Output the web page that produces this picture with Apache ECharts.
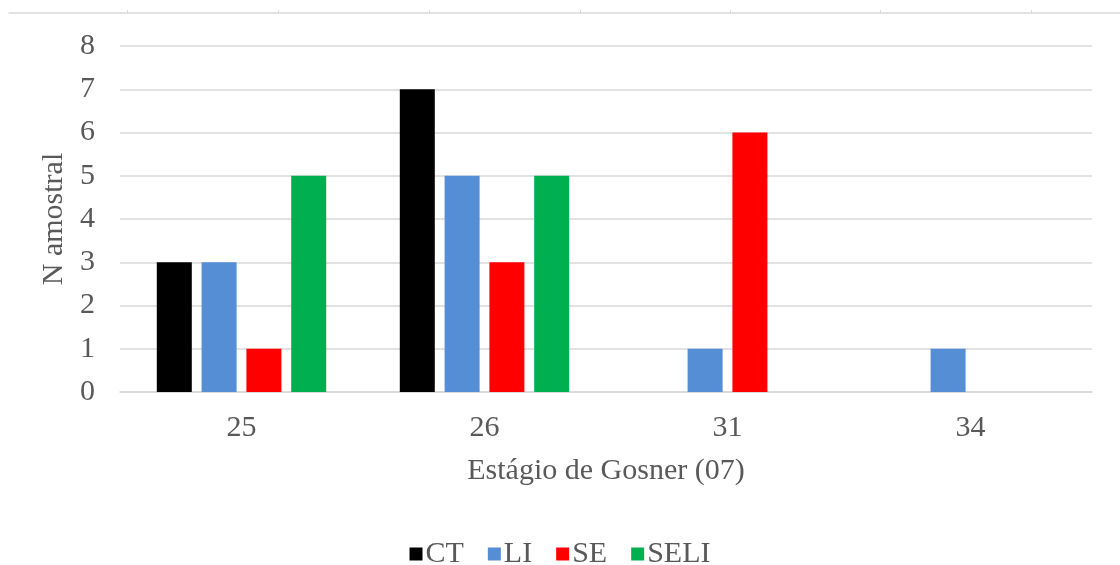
<!DOCTYPE html>
<html>
<head>
<meta charset="utf-8">
<script src="https://cdn.jsdelivr.net/npm/echarts@6/dist/echarts.min.js"></script>
<style>
  html, body { margin: 0; padding: 0; background: #fff; }
  #chart { width: 1120px; height: 565px; }
</style>
</head>
<body>
<div id="chart"></div>
<script>
// Gosner stages and sample counts per treatment
const stages = ['25', '26', '31', '34'];
const ct   = [3, 7, 0, 0];
const li   = [3, 5, 1, 1];
const se   = [1, 3, 6, 0];
const seli = [5, 5, 0, 0];
const yTicks = [0, 1, 2, 3, 4, 5, 6, 7, 8];

const FONT = '"Liberation Serif", "DejaVu Serif", serif';
const FONT_SIZE = 30;
const TEXT = '#595959';
const GRID_LINE = '#d9d9d9';

function bar(name, data, color) {
  return {
    name, type: 'bar', data,
    xAxisIndex: 0, yAxisIndex: 0,
    barWidth: 35, barGap: '28%',
    itemStyle: { color },
    emphasis: { disabled: true }
  };
}

const chart = echarts.init(document.getElementById('chart'), null, { renderer: 'canvas' });
chart.setOption({
  animation: false,
  backgroundColor: '#ffffff',
  textStyle: { fontFamily: FONT },
  grid: [
    { left: 120, right: 28, top: 46, height: 346 },
    // thin ruled line with ticks along the top edge
    { left: 9, right: 0, top: 12, height: 1 }
  ],
  legend: {
    top: 534, left: 'center',
    icon: 'rect', itemWidth: 13, itemHeight: 13, itemGap: 24,
    textStyle: { fontFamily: FONT, fontSize: FONT_SIZE, color: TEXT, padding: [0, 0, 0, -2] },
    data: ['CT', 'LI', 'SE', 'SELI']
  },
  xAxis: [
    {
      type: 'category', data: stages, gridIndex: 0,
      name: 'Estágio de Gosner (07)', nameLocation: 'middle', nameGap: 64,
      nameTextStyle: { fontFamily: FONT, fontSize: FONT_SIZE, color: TEXT },
      axisLine: { show: true, lineStyle: { color: GRID_LINE, width: 1.5 } },
      axisTick: { show: false },
      axisLabel: { fontFamily: FONT, fontSize: FONT_SIZE, color: TEXT, margin: 21 }
    },
    {
      type: 'value', gridIndex: 1, position: 'top', min: 9, max: 1120,
      axisLine: { show: true, lineStyle: { color: GRID_LINE, width: 1.5 } },
      axisTick: { show: true, length: 3, lineStyle: { color: GRID_LINE },
                  customValues: [127, 278, 429, 580, 730, 880, 1031] },
      axisLabel: { show: false },
      splitLine: { show: false }
    }
  ],
  yAxis: [
    {
      type: 'value', gridIndex: 0,
      min: yTicks[0], max: yTicks[yTicks.length - 1], interval: 1,
      name: 'N amostral', nameLocation: 'middle', nameGap: 47, nameRotate: 90,
      nameTextStyle: { fontFamily: FONT, fontSize: FONT_SIZE, color: TEXT },
      axisLine: { show: false }, axisTick: { show: false },
      axisLabel: { fontFamily: FONT, fontSize: FONT_SIZE, color: TEXT, margin: 25 },
      splitLine: { lineStyle: { color: GRID_LINE, width: 1.5 } }
    },
    { type: 'value', gridIndex: 1, show: false }
  ],
  series: [
    bar('CT', ct, '#000000'),
    bar('LI', li, '#558ed5'),
    bar('SE', se, '#ff0000'),
    bar('SELI', seli, '#00b050')
  ]
});
</script>
</body>
</html>
